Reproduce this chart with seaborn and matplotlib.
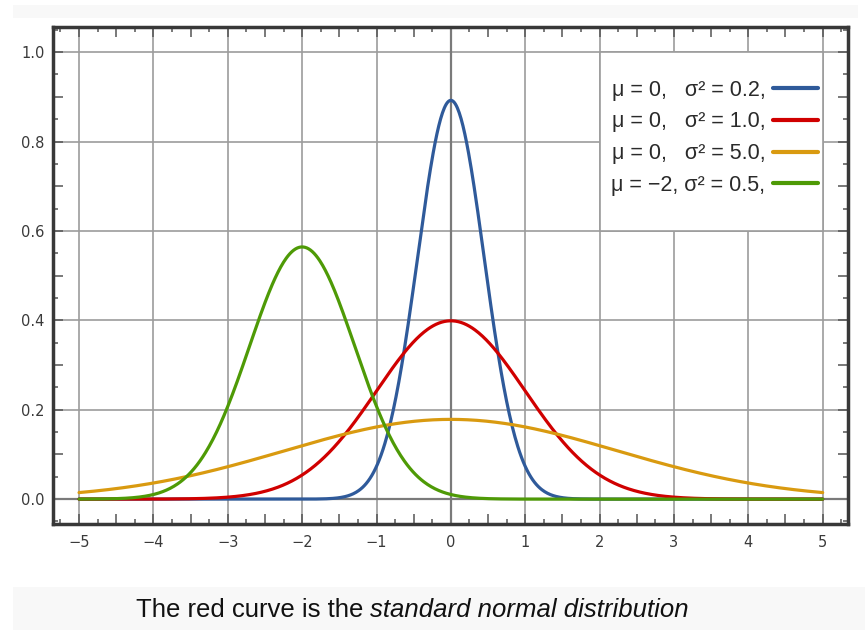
import numpy as np
import pandas as pd
import matplotlib
matplotlib.use('Agg')
import matplotlib.pyplot as plt
from matplotlib.patches import Rectangle
from matplotlib.ticker import MultipleLocator, FuncFormatter
import seaborn as sns

# Distribution parameters as given in the legend
means = [0, 0, 0, -2]
variances = [0.2, 1.0, 5.0, 0.5]
labels = ['\u03bc = 0,   \u03c3\u00b2 = 0.2,',
          '\u03bc = 0,   \u03c3\u00b2 = 1.0,',
          '\u03bc = 0,   \u03c3\u00b2 = 5.0,',
          '\u03bc = \u22122, \u03c3\u00b2 = 0.5,']
colors = ['#2f5a9a', '#d00000', '#d99a10', '#4e9a06']
x_grid = list(range(-5, 6))
y_grid = [0.0, 0.2, 0.4, 0.6, 0.8, 1.0]
caption_plain = 'The red curve is the '
caption_italic = 'standard normal distribution'

sns.set_style('white')
plt.rcParams['font.family'] = ['DejaVu Sans']

x = np.linspace(-5, 5, 801)
rows = []
for mu, var, lab in zip(means, variances, labels):
    y = np.exp(-(x - mu) ** 2 / (2 * var)) / np.sqrt(2 * np.pi * var)
    rows.append(pd.DataFrame({'x': x, 'density': y, 'curve': lab}))
df = pd.concat(rows, ignore_index=True)

fig = plt.figure(figsize=(8.65, 6.3), dpi=100)
ax = fig.add_axes([0.0613, 0.168, 0.919, 0.789])

# grey bands at top and bottom of the image
fig.patches.append(Rectangle((0.015, 0.971), 0.977, 0.021, transform=fig.transFigure,
                             facecolor='#f8f8f8', edgecolor='none', zorder=0))
fig.patches.append(Rectangle((0.015, 0.0), 0.985, 0.068, transform=fig.transFigure,
                             facecolor='#f8f8f8', edgecolor='none', zorder=0))

# grid lines at the labelled ticks only
grid_col = '#9c9c9c'
ax.vlines(x_grid, -0.1, 1.1, color=grid_col, linewidth=1.2, zorder=0.5)
ax.hlines(y_grid, -6, 6, color=grid_col, linewidth=1.2, zorder=0.5)
ax.axhline(0, color='#7a7a7a', linewidth=1.6, zorder=0.8)
ax.axvline(0, color='#7a7a7a', linewidth=1.6, zorder=0.8)
# white area behind the legend hides the grid inside it
ax.add_patch(Rectangle((x_grid[7], y_grid[3]), x_grid[10] - x_grid[7], y_grid[5] - y_grid[3],
                       facecolor='white', edgecolor=grid_col, linewidth=1.2, zorder=1))

sns.lineplot(data=df, x='x', y='density', hue='curve', palette=colors,
             linewidth=2.3, ax=ax, zorder=3)

ax.set_xlim(-5.35, 5.34)
ax.set_ylim(-0.056, 1.056)
ax.xaxis.set_major_locator(MultipleLocator(0.5))
ax.xaxis.set_minor_locator(MultipleLocator(0.25))
ax.yaxis.set_major_locator(MultipleLocator(0.1))
ax.yaxis.set_minor_locator(MultipleLocator(0.05))
ax.xaxis.set_major_formatter(FuncFormatter(
    lambda v, p: (f'{v:.0f}'.replace('-', '\u2212') if abs(v - round(v)) < 1e-6 else '')))
ax.yaxis.set_major_formatter(FuncFormatter(
    lambda v, p: (f'{v:.1f}' if abs(v * 5 - round(v * 5)) < 1e-6 else '')))
ax.tick_params(which='both', direction='in', top=True, right=True, bottom=True, left=True,
               color='#555555', labelsize=10.5, labelcolor='#3a3a3a')
ax.tick_params(which='major', length=7, width=1.1)
ax.tick_params(which='minor', length=3.5, width=1.1)
ax.tick_params(axis='x', pad=8)
ax.tick_params(axis='y', pad=6)
ax.set_xlabel('')
ax.set_ylabel('')
for s in ax.spines.values():
    s.set_color('#383838')
    s.set_linewidth(2.5)

leg = ax.legend(loc='upper right', bbox_to_anchor=(0.976, 0.916), markerfirst=False,
                frameon=False, handlelength=2.1, labelspacing=0.5, borderpad=0,
                handletextpad=0.35, labelcolor='#2a2a2a',
                prop={'family': ['Liberation Sans'], 'size': 15.5})
for line in leg.get_lines():
    line.set_linewidth(3)

fig.text(0.428, 0.032, caption_plain, ha='right', va='center', fontsize=18.5,
         family=['Liberation Sans'], color='#111111')
fig.text(0.428, 0.032, caption_italic, ha='left', va='center', fontsize=18.5,
         family=['Liberation Sans'], style='italic', color='#111111')

fig.savefig('out.png', dpi=100)
